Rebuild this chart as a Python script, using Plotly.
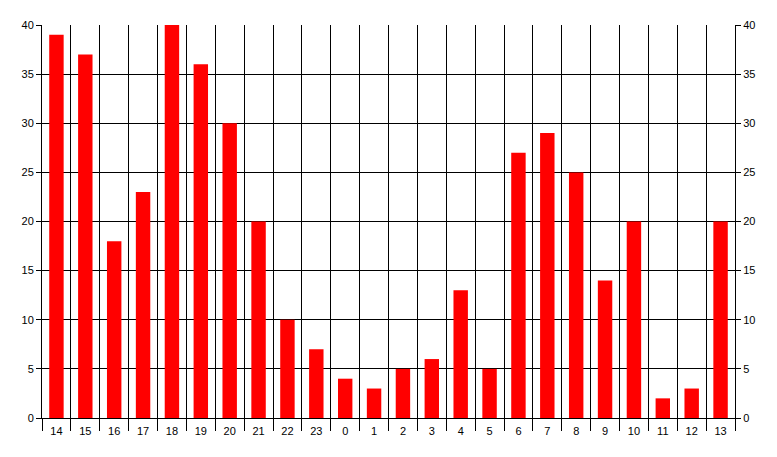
import plotly.graph_objects as go

hours = ["14", "15", "16", "17", "18", "19", "20", "21", "22", "23", "0", "1",
         "2", "3", "4", "5", "6", "7", "8", "9", "10", "11", "12", "13"]
counts = [39, 37, 18, 23, 40, 36, 30, 20, 10, 7, 4, 3,
          5, 6, 13, 5, 27, 29, 25, 14, 20, 2, 3, 20]
y_ticks = [0, 5, 10, 15, 20, 25, 30, 35, 40]

pos = list(range(len(hours)))
bounds = [i - 0.5 for i in range(len(hours) + 1)]

fig = go.Figure()
fig.add_trace(go.Bar(x=pos, y=counts, marker=dict(color="#ff0000", line=dict(width=0)),
                     width=0.5, xaxis="x", yaxis="y"))
fig.add_trace(go.Scatter(x=[pos[0]], y=[0], mode="markers", marker=dict(opacity=0),
                         xaxis="x2", yaxis="y2", showlegend=False, hoverinfo="skip"))

font = dict(family="Liberation Sans, Arial, sans-serif", size=11, color="black")

# page body has an 8px default margin, so figure is 8px smaller and margins shifted
fig.update_layout(
    width=769, height=449,
    margin=dict(l=34, r=42, t=17, b=39, autoexpand=False),
    paper_bgcolor="white", plot_bgcolor="white",
    showlegend=False, bargap=0.5,
    font=font,
    xaxis=dict(range=[-0.5, len(hours) - 0.5], tickmode="array", tickvals=pos, ticktext=hours,
               ticks="", showgrid=False, zeroline=False, showline=True, linecolor="black",
               linewidth=1, tickfont=font, ticklabelstandoff=3, automargin=False),
    xaxis2=dict(range=[-0.5, len(hours) - 0.5], overlaying="x", side="bottom",
                tickmode="array", tickvals=bounds, showticklabels=False,
                ticks="outside", ticklen=12, tickcolor="black", tickwidth=1,
                showgrid=True, gridcolor="black", gridwidth=1, zeroline=False, showline=False,
                automargin=False),
    yaxis=dict(range=[0, 40], tickmode="array", tickvals=y_ticks, ticks="outside",
               ticklen=5, tickcolor="black", showgrid=True, gridcolor="black", gridwidth=1,
               zeroline=False, showline=True, linecolor="black", tickfont=font,
               automargin=False),
    yaxis2=dict(range=[0, 40], overlaying="y", side="right", tickmode="array",
                tickvals=y_ticks, ticks="outside", ticklen=5, tickcolor="black",
                showgrid=False, zeroline=False, showline=True, linecolor="black",
                tickfont=font, automargin=False),
)

fig.write_html("out.html")
